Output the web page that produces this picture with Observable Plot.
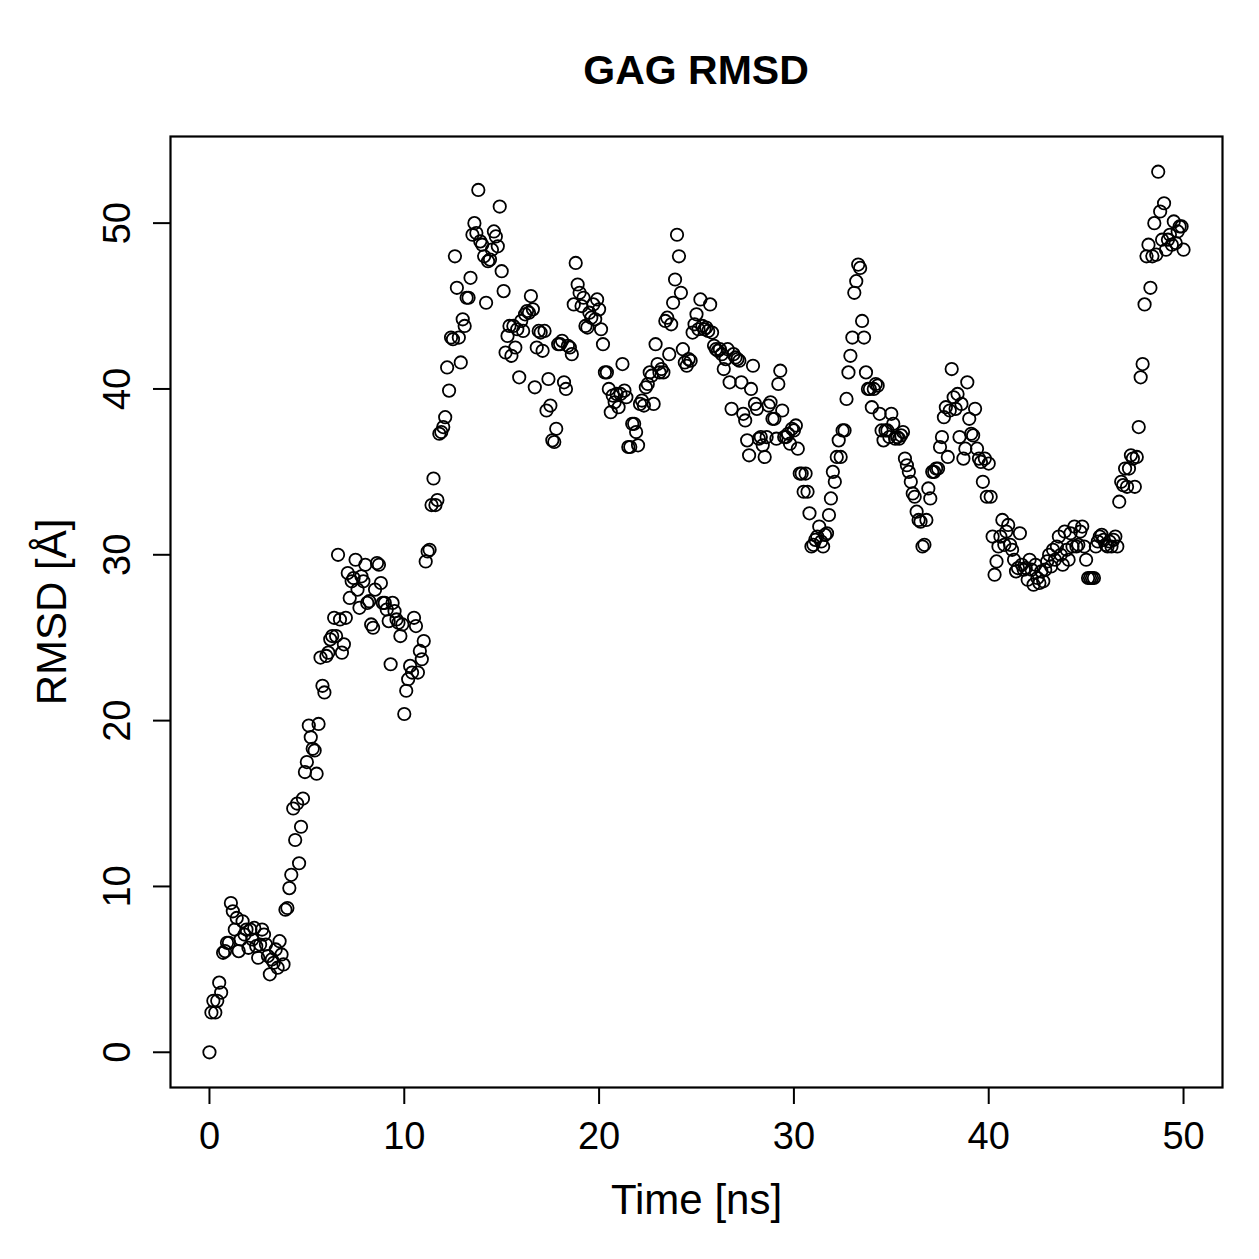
<!DOCTYPE html>
<html>
<head>
<meta charset="utf-8">
<script src="https://cdn.jsdelivr.net/npm/d3@7"></script>
<script src="https://cdn.jsdelivr.net/npm/@observablehq/plot@0.6"></script>
<style>
  html, body { margin: 0; padding: 0; background: #fff; }
  #chart { position: relative; width: 1259px; height: 1259px;
           font-family: "Liberation Sans", Arial, Helvetica, sans-serif; }
  #title { position: absolute; left: 446px; width: 500px; top: 45px;
           text-align: center; font-weight: bold; font-size: 41px; line-height: 50px; color: #000; }
  #chart svg { position: absolute; left: 0; top: 0; }
</style>
</head>
<body>
<div id="chart"><div id="title">GAG RMSD</div></div>
<script>
// Trajectory sampled every 0.1 ns, 0–50 ns
const timeStep = 0.1;

// RMSD of the GAG chain per frame, in Å
const rmsd = [
  0.0, 2.4, 3.1, 2.4, 3.1, 4.2, 3.6, 6.0, 6.1, 6.6,
  6.6, 9.0, 8.5, 7.4, 8.1, 6.1, 6.8, 7.9, 7.1, 7.4,
  6.3, 7.4, 6.8, 7.5, 6.4, 5.7, 6.5, 7.4, 7.1, 6.5,
  5.8, 4.7, 5.6, 5.4, 6.2, 5.1, 6.7, 5.9, 5.3, 8.6,
  8.7, 9.9, 10.7, 14.7, 12.8, 15.0, 11.4, 13.6, 15.3, 16.9,
  17.5, 19.7, 19.0, 18.3, 18.2, 16.8, 19.8, 23.8, 22.1, 21.7,
  23.9, 24.1, 24.9, 25.1, 26.2, 25.1, 30.0, 26.1, 24.1, 24.6,
  26.2, 28.9, 27.4, 28.4, 28.6, 29.7, 27.9, 26.8, 28.7, 28.4,
  29.4, 27.1, 27.2, 25.8, 25.6, 27.9, 29.5, 29.4, 28.3, 27.1,
  27.1, 26.7, 26.0, 23.4, 27.1, 26.6, 26.1, 25.9, 25.1, 25.8,
  20.4, 21.8, 22.5, 23.3, 22.9, 26.2, 25.7, 22.9, 24.2, 23.7,
  24.8, 29.6, 30.2, 30.3, 33.0, 34.6, 33.0, 33.3, 37.3, 37.4,
  37.7, 38.3, 41.3, 39.9, 43.1, 43.0, 48.0, 46.1, 43.1, 41.6,
  44.2, 43.8, 45.5, 45.5, 46.7, 49.3, 50.0, 49.4, 52.0, 48.9,
  48.7, 48.0, 45.2, 47.7, 47.8, 48.4, 49.5, 49.2, 48.6, 51.0,
  47.1, 45.9, 42.2, 43.2, 43.8, 42.0, 43.8, 42.5, 43.6, 40.7,
  44.1, 43.5, 44.5, 44.7, 44.6, 45.6, 44.8, 40.1, 42.5, 43.5,
  43.4, 42.3, 43.5, 38.7, 40.6, 39.0, 36.9, 36.8, 37.6, 42.7,
  42.7, 42.9, 40.4, 40.0, 42.6, 42.5, 42.1, 45.1, 47.6, 46.3,
  45.8, 45.0, 45.5, 43.8, 43.7, 44.6, 44.3, 45.1, 44.2, 45.4,
  44.8, 43.6, 42.7, 41.0, 41.0, 40.0, 38.6, 39.6, 39.2, 39.7,
  38.9, 39.7, 41.5, 39.9, 39.5, 36.5, 36.5, 37.9, 37.9, 37.4,
  36.6, 39.1, 39.3, 39.0, 40.1, 40.3, 41.0, 40.8, 39.1, 42.7,
  41.5, 41.0, 41.2, 41.0, 44.1, 44.3, 42.1, 43.9, 45.2, 46.6,
  49.3, 48.0, 45.8, 42.4, 41.6, 41.4, 41.8, 41.7, 43.4, 43.9,
  44.5, 43.6, 45.4, 43.8, 43.6, 43.7, 43.5, 45.1, 43.4, 42.6,
  42.4, 42.3, 42.4, 42.1, 41.2, 41.8, 42.4, 40.4, 38.8, 42.1,
  41.9, 41.8, 41.7, 40.4, 38.5, 38.1, 36.9, 36.0, 40.0, 41.4,
  39.1, 38.8, 37.0, 37.1, 36.6, 35.9, 37.1, 39.0, 39.2, 38.2,
  38.2, 37.0, 40.3, 41.1, 38.7, 37.1, 37.1, 37.3, 36.7, 37.6,
  37.5, 37.8, 36.4, 34.9, 34.9, 33.8, 34.9, 33.8, 32.5, 30.5,
  30.6, 30.9, 31.1, 31.7, 30.8, 30.5, 31.2, 31.3, 32.4, 33.4,
  35.0, 34.4, 35.9, 36.9, 35.9, 37.5, 37.5, 39.4, 41.0, 42.0,
  43.1, 45.8, 46.5, 47.5, 47.3, 44.1, 43.1, 41.0, 40.0, 40.0,
  38.9, 40.0, 40.3, 40.2, 38.5, 37.5, 36.9, 37.5, 37.5, 37.1,
  38.5, 37.9, 37.0, 37.1, 37.0, 37.2, 37.4, 35.8, 35.4, 35.0,
  34.4, 33.7, 33.5, 32.6, 32.1, 32.0, 30.5, 30.6, 32.1, 34.0,
  33.4, 35.0, 35.0, 35.2, 35.2, 36.5, 37.1, 38.3, 38.9, 35.9,
  38.7, 41.2, 39.5, 38.8, 39.7, 37.1, 39.1, 35.8, 36.4, 40.4,
  38.2, 37.3, 37.2, 38.8, 36.4, 35.8, 35.6, 34.4, 35.8, 33.5,
  35.5, 33.5, 31.1, 28.8, 29.6, 30.5, 31.1, 32.1, 30.6, 31.4,
  31.8, 30.6, 30.3, 29.7, 29.0, 29.2, 31.3, 29.4, 29.1, 29.2,
  28.5, 29.7, 29.1, 28.2, 29.4, 28.6, 28.3, 29.0, 28.4, 29.1,
  29.6, 30.0, 29.3, 30.3, 29.7, 30.5, 31.1, 30.0, 29.4, 31.4,
  30.3, 29.7, 31.3, 30.5, 31.7, 30.5, 30.6, 31.4, 31.7, 30.5,
  29.7, 28.6, 28.6, 28.6, 28.6, 30.5, 30.8, 31.1, 31.2, 30.9,
  30.6, 30.5, 30.8, 30.5, 30.9, 31.1, 30.5, 33.2, 34.4, 34.2,
  35.2, 34.1, 35.2, 36.0, 35.8, 34.1, 35.9, 37.7, 40.7, 41.5,
  45.1, 48.0, 48.7, 46.1, 48.0, 50.0, 48.1, 53.1, 50.7, 49.0,
  51.2, 48.4, 49.0, 49.3, 48.7, 50.1, 48.8, 49.5, 49.8, 49.8,
  48.4
];

const xTicks = [0, 10, 20, 30, 40, 50];
const yTicks = [0, 10, 20, 30, 40, 50];
const xLabel = "Time [ns]";
const yLabel = "RMSD [Å]";

const frames = rmsd.map((v, i) => ({ time: +(i * timeStep).toFixed(1), rmsd: v }));

const font = "'Liberation Sans', Arial, Helvetica, sans-serif";

const chart = Plot.plot({
  width: 1259,
  height: 1259,
  marginLeft: 170,
  marginRight: 37,
  marginTop: 136,
  marginBottom: 172,
  style: { fontFamily: font, fontSize: "38px", background: "transparent", color: "#000", overflow: "visible" },
  x: { domain: [-2, 52] },
  y: { domain: [-2.124, 55.224] },
  marks: [
    Plot.axisX(xTicks, { tickSize: 17, tickPadding: 18, strokeWidth: 2, fontSize: 38, label: null }),
    Plot.axisY(yTicks, { tickSize: 17, tickPadding: 24, strokeWidth: 2, fontSize: 38, tickRotate: -90, label: null }),
    Plot.dot(frames, { x: "time", y: "rmsd", r: 6.2, stroke: "#000", strokeWidth: 1.8, fill: "none" }),
    Plot.frame({ stroke: "#000", strokeWidth: 2.2 }),
    Plot.text([xLabel], { frameAnchor: "bottom", dy: 126, fontSize: 42 }),
    Plot.text([yLabel], { frameAnchor: "left", dx: -118, rotate: -90, textAnchor: "middle", fontSize: 42 })
  ]
});

document.getElementById("chart").appendChild(chart);
</script>
</body>
</html>
